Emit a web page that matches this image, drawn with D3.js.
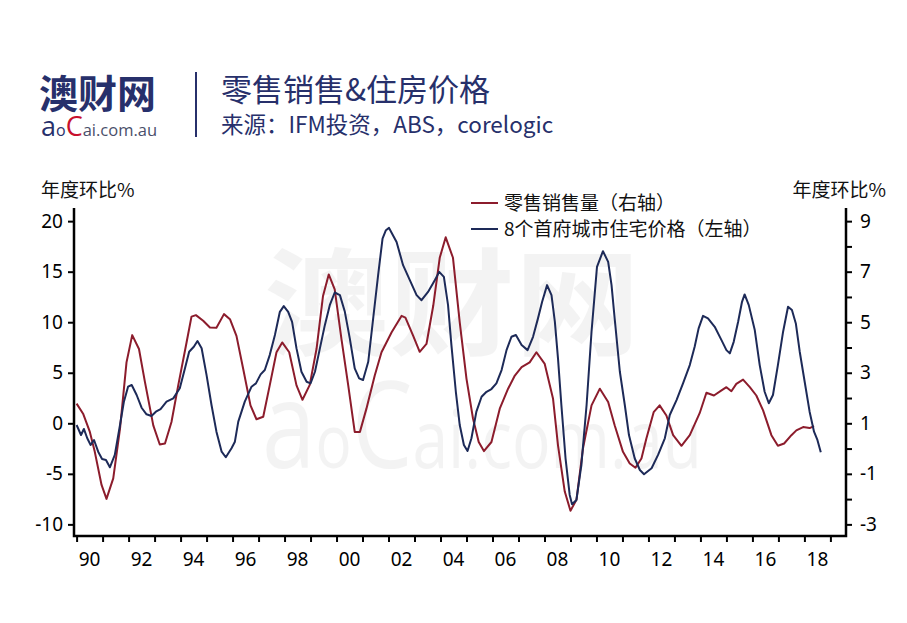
<!DOCTYPE html>
<html><head><meta charset="utf-8">
<script src="https://cdn.jsdelivr.net/npm/d3@7"></script>
<style>
html,body{margin:0;padding:0;background:#fff;}
svg{display:block;font-family:"Noto Sans CJK SC","Noto Sans",sans-serif;}
</style></head><body>
<svg id="chart" width="907" height="623"></svg>
<script>
// ---- data (decimal year, value) ----
// 零售销售量 (右轴)
const retailYears = [1990.00,1990.25,1990.51,1990.70,1990.96,1991.15,1991.41,1991.67,1991.92,1992.14,1992.40,1992.63,1992.95,1993.20,1993.40,1993.65,1993.91,1994.23,1994.42,1994.59,1994.87,1995.13,1995.38,1995.67,1995.90,1996.15,1996.41,1996.69,1996.92,1997.18,1997.43,1997.69,1997.91,1998.18,1998.46,1998.69,1998.97,1999.23,1999.48,1999.70,1999.93,2000.19,2000.45,2000.70,2000.90,2001.15,2001.47,2001.73,2002.12,2002.50,2002.65,2002.95,2003.20,2003.46,2003.72,2003.97,2004.20,2004.48,2004.74,2005.00,2005.25,2005.47,2005.67,2005.96,2006.28,2006.60,2006.86,2007.12,2007.43,2007.69,2008.01,2008.33,2008.52,2008.78,2009.00,2009.23,2009.48,2009.81,2010.13,2010.45,2010.70,2011.02,2011.28,2011.50,2011.73,2011.92,2012.20,2012.43,2012.69,2012.95,2013.27,2013.59,2013.97,2014.23,2014.52,2014.81,2015.00,2015.19,2015.38,2015.64,2015.90,2016.15,2016.41,2016.73,2016.98,2017.22,2017.50,2017.69,2017.95,2018.20,2018.37];
const retailValues = [1.78,1.38,0.66,-0.13,-1.44,-1.99,-1.18,0.79,3.41,4.49,3.94,2.63,0.92,0.16,0.20,1.05,2.50,4.20,5.22,5.28,5.06,4.79,4.78,5.32,5.12,4.46,3.15,1.71,1.16,1.26,2.50,3.81,4.20,3.81,2.50,1.93,2.52,3.94,6.04,6.89,6.30,4.33,2.50,0.66,0.66,1.58,2.89,3.81,4.60,5.25,5.18,4.46,3.83,4.14,5.65,7.55,8.36,7.55,4.99,2.76,1.19,0.26,-0.10,0.26,1.58,2.37,2.89,3.22,3.41,3.81,3.35,1.97,0.13,-1.70,-2.46,-2.03,0.00,1.71,2.37,1.84,0.92,-0.13,-0.59,-0.76,-0.39,0.40,1.44,1.71,1.31,0.53,0.11,0.53,1.40,2.21,2.10,2.30,2.43,2.27,2.56,2.73,2.43,2.10,1.51,0.53,0.11,0.20,0.53,0.72,0.85,0.81,0.89];
// 8个首府城市住宅价格 (左轴)
const houseYears = [1990.00,1990.17,1990.28,1990.41,1990.54,1990.67,1990.83,1990.98,1991.13,1991.28,1991.47,1991.67,1991.82,1991.98,1992.12,1992.31,1992.50,1992.69,1992.88,1993.05,1993.23,1993.46,1993.72,1993.97,1994.17,1994.33,1994.51,1994.65,1994.81,1995.00,1995.19,1995.38,1995.58,1995.74,1995.96,1996.09,1996.22,1996.47,1996.73,1996.90,1997.08,1997.24,1997.43,1997.63,1997.82,1997.97,1998.14,1998.29,1998.46,1998.65,1998.85,1999.00,1999.17,1999.36,1999.55,1999.74,1999.93,2000.13,2000.32,2000.51,2000.70,2000.87,2001.02,2001.22,2001.41,2001.60,2001.77,2001.90,2002.02,2002.31,2002.56,2002.82,2003.08,2003.27,2003.52,2003.78,2003.95,2004.13,2004.29,2004.42,2004.59,2004.74,2004.90,2005.04,2005.19,2005.38,2005.58,2005.77,2005.96,2006.15,2006.35,2006.54,2006.73,2006.90,2007.12,2007.35,2007.56,2007.75,2007.91,2008.10,2008.27,2008.40,2008.52,2008.65,2008.81,2008.97,2009.06,2009.23,2009.42,2009.62,2009.81,2010.02,2010.25,2010.45,2010.58,2010.70,2010.90,2011.09,2011.25,2011.47,2011.67,2011.83,2012.12,2012.37,2012.63,2012.82,2013.08,2013.33,2013.59,2013.78,2013.93,2014.10,2014.29,2014.55,2014.81,2015.00,2015.13,2015.28,2015.45,2015.60,2015.70,2015.86,2016.09,2016.28,2016.47,2016.63,2016.79,2016.98,2017.18,2017.37,2017.52,2017.67,2017.82,2018.01,2018.20,2018.37,2018.50,2018.63];
const houseValues = [-0.17,-1.16,-0.56,-1.48,-2.14,-1.65,-2.81,-3.53,-3.63,-4.35,-3.13,-0.17,2.14,3.62,3.79,2.80,1.54,0.89,0.72,1.15,1.41,2.14,2.47,3.46,5.44,7.08,7.57,8.14,7.42,4.77,1.81,-0.83,-2.81,-3.36,-2.47,-1.82,0.16,2.14,3.62,3.95,4.84,5.27,6.75,8.73,11.03,11.59,11.03,10.04,7.41,5.10,4.11,3.95,5.10,7.41,9.71,11.69,12.94,12.68,11.03,8.40,5.43,4.45,4.28,6.09,10.38,14.65,18.28,19.10,19.33,17.94,15.64,14.16,12.68,12.18,13.00,14.16,14.98,14.49,11.69,7.74,3.12,-0.17,-2.14,-2.74,-1.48,1.15,2.63,3.12,3.39,3.95,5.27,7.24,8.56,8.73,7.74,7.24,8.56,10.38,12.02,13.67,12.68,10.04,6.42,1.81,-3.46,-7.09,-8.01,-7.58,-4.12,1.81,9.06,15.48,17.03,15.97,13.67,10.38,5.10,1.81,-1.16,-3.46,-4.62,-5.04,-4.45,-3.13,-1.48,0.82,2.30,3.95,5.76,7.60,9.39,10.63,10.38,9.55,8.23,7.24,6.92,8.06,10.04,12.02,12.75,11.69,9.22,5.76,3.12,1.98,2.80,5.76,9.06,11.53,11.20,9.88,7.08,4.11,1.15,-0.83,-1.65,-2.87];

const leftTicks = [-10,-5,0,5,10,15,20];
const rightTicks = [-3,-1,1,3,5,7,9];
const rightMinorTicks = [-2,0,2,4,6,8];
const yearTicks = d3.range(1990, 2020);
const yearLabels = [1990,1992,1994,1996,1998,2000,2002,2004,2006,2008,2010,2012,2014,2016,2018];
const legendNames = ["零售销售量（右轴）","8个首府城市住宅价格（左轴）"];

// ---- layout ----
const RED = "#8c1c2c", BLUE = "#1d2a58", NAVY = "#27306b";
const svg = d3.select("#chart");
const L = 74, R = 846, T = 208, B = 536;

const x = d3.scaleLinear().domain([1989.9, 2019.6]).range([L, R]);
const yL = d3.scaleLinear().domain([-11.15, 21.3]).range([B, T]);
const yR = d3.scaleLinear().domain([-3.46, 9.52]).range([B, T]);

// ---- watermark ----
const wm = svg.append("g").attr("fill", "#000").attr("opacity", 0.045);
wm.append("text").attr("x", 264).attr("y", 346).attr("font-size", 116).attr("font-weight", 700)
  .attr("textLength", 376).attr("lengthAdjust", "spacingAndGlyphs").text("澳财网");
const wm2 = wm.append("text").attr("x", 262).attr("y", 468).attr("font-family", "'Open Sans',sans-serif")
  .attr("textLength", 440).attr("lengthAdjust", "spacingAndGlyphs");
wm2.append("tspan").attr("font-size", 120).text("a");
wm2.append("tspan").attr("font-size", 75).text("o");
wm2.append("tspan").attr("font-size", 120).text("C");
wm2.append("tspan").attr("font-size", 80).text("ai.com.au");

// ---- header ----
svg.append("text").attr("x", 39).attr("y", 108).attr("font-size", 39).attr("font-weight", 700)
  .attr("fill", NAVY).text("澳财网");
const logo2 = svg.append("text").attr("x", 41).attr("y", 136).attr("font-family", "'Open Sans',sans-serif");
logo2.append("tspan").attr("font-size", 27).attr("fill", NAVY).text("a");
logo2.append("tspan").attr("font-size", 16).attr("fill", NAVY).text("o");
logo2.append("tspan").attr("font-size", 27).attr("fill", "#c8102e").text("C");
logo2.append("tspan").attr("font-size", 16.5).attr("fill", "#4a4f6a").text("ai.com.au");
svg.append("line").attr("x1", 196).attr("x2", 196).attr("y1", 72).attr("y2", 137)
  .attr("stroke", NAVY).attr("stroke-width", 2);
svg.append("text").attr("x", 221).attr("y", 101).attr("font-size", 31).attr("fill", NAVY)
  .text("零售销售&住房价格");
svg.append("text").attr("x", 221).attr("y", 133).attr("font-size", 22.5).attr("font-weight", 400).attr("fill", NAVY)
  .text("来源：IFM投资，ABS，corelogic");

// ---- axis titles ----
svg.append("text").attr("x", 41).attr("y", 197).attr("font-size", 19).attr("fill", "#111").text("年度环比%");
svg.append("text").attr("x", 886).attr("y", 197).attr("font-size", 19).attr("fill", "#111")
  .attr("text-anchor", "end").text("年度环比%");

// ---- series ----
const redData = retailYears.map((t, i) => [t, retailValues[i]]);
const blueData = houseYears.map((t, i) => [t, houseValues[i]]);
const lineR = d3.line().x(d => x(d[0])).y(d => yR(d[1]));
const lineL = d3.line().x(d => x(d[0])).y(d => yL(d[1]));
svg.append("path").datum(redData).attr("d", lineR).attr("fill", "none")
  .attr("stroke", RED).attr("stroke-width", 2).attr("stroke-linejoin", "round");
svg.append("path").datum(blueData).attr("d", lineL).attr("fill", "none")
  .attr("stroke", BLUE).attr("stroke-width", 2).attr("stroke-linejoin", "round");

// ---- axes ----
const tickFont = "'Noto Sans',sans-serif";
const minus = d => d < 0 ? "-" + Math.abs(d) : String(d);
const gL = svg.append("g").attr("transform", `translate(${L},0)`)
  .call(d3.axisLeft(yL).tickValues(leftTicks).tickSize(6).tickPadding(5).tickFormat(minus));
const gR = svg.append("g").attr("transform", `translate(${R},0)`)
  .call(d3.axisRight(yR).tickValues(rightTicks).tickSize(6).tickPadding(8).tickFormat(minus));
const gRm = svg.append("g").attr("transform", `translate(${R},0)`)
  .call(d3.axisRight(yR).tickValues(rightMinorTicks).tickSize(6).tickFormat(() => ""));
gRm.selectAll("text").remove();
const gB = svg.append("g").attr("transform", `translate(0,${B})`)
  .call(d3.axisBottom(x).tickValues(yearTicks).tickSize(6).tickFormat(() => ""));
gB.selectAll("text").remove();
[gL, gR, gRm, gB].forEach(g => {
  g.select(".domain").remove();
  g.selectAll(".tick line").attr("stroke", "#000").attr("stroke-width", 2);
  g.selectAll("text").attr("font-size", 19).attr("fill", "#000").attr("font-family", tickFont);
});
// year labels at mid-year
svg.append("g").selectAll("text").data(yearLabels).join("text")
  .attr("x", d => x(d + 0.5)).attr("y", 566).attr("text-anchor", "middle")
  .attr("font-size", 19).attr("font-family", tickFont).attr("fill", "#000")
  .text(d => String(d).slice(2));
// frame lines (left, bottom, right)
svg.append("path").attr("d", `M${L},${T}V${B}H${R}V${T}`).attr("fill", "none")
  .attr("stroke", "#000").attr("stroke-width", 2.5);

// ---- legend ----
const lg = svg.append("g");
[[RED, 203], [BLUE, 229]].forEach(([c, yy], i) => {
  lg.append("line").attr("x1", 471).attr("x2", 498).attr("y1", yy).attr("y2", yy)
    .attr("stroke", c).attr("stroke-width", 2);
  lg.append("text").attr("x", 504).attr("y", yy + 6.5).attr("font-size", 19).attr("fill", "#111")
    .text(legendNames[i]);
});
</script>
</body></html>
